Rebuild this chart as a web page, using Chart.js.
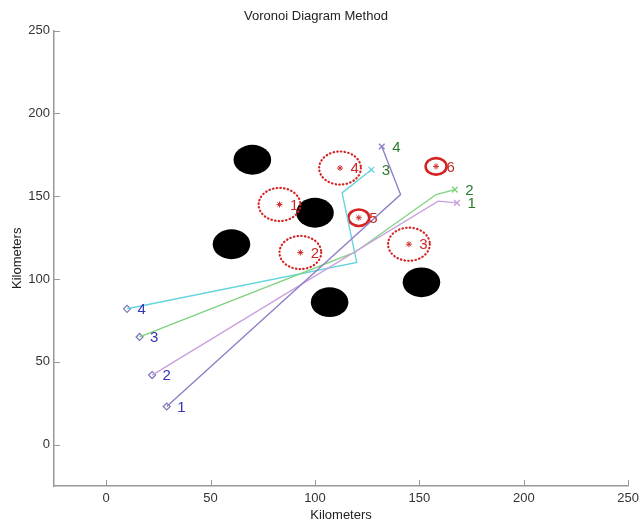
<!DOCTYPE html>
<html>
<head>
<meta charset="utf-8">
<title>Voronoi Diagram Method</title>
<script src="https://cdn.jsdelivr.net/npm/chart.js@4.4.1/dist/chart.umd.min.js"></script>
<style>
  body { margin: 0; background: #fff; }
</style>
</head>
<body>
<canvas id="voronoiChart" width="644" height="525"></canvas>
<script>
// axis ticks (km)
const xTicks = [0, 50, 100, 150, 200, 250];
const yTicks = [0, 50, 100, 150, 200, 250];

// obstacles (solid black), radius in km
const obstacleX = [70, 100, 60, 107, 151];
const obstacleY = [172, 140, 121, 86, 98];
const obstacleR = 9;

// threats: centre, radius, label
const threatX = [83, 93, 145, 112, 121, 158];
const threatY = [145, 116, 121, 167, 137, 168];
const threatR = [10, 10, 10, 10, 5, 5];
const threatLabels = ['1', '2', '3', '4', '5', '6'];

// routes from start point to end point
const path1X = [29, 141, 132];
const path1Y = [23, 151, 180];
const path2X = [22, 159, 168];
const path2Y = [42, 147, 146];
const path3X = [16, 119, 158, 167];
const path3Y = [65, 116, 151, 154];
const path4X = [10, 120, 113, 127];
const path4Y = [82, 110, 152, 166];
const pathColors = ['#8f80c6', '#c9a0de', '#80d280', '#66d4dc'];
const startLabels = ['1', '2', '3', '4'];
const endLabels = ['4', '1', '2', '3'];

const family = '"Liberation Sans", Arial, sans-serif';
const paths = [[path1X, path1Y], [path2X, path2Y], [path3X, path3Y], [path4X, path4Y]];

function toPoints(xs, ys) {
    return xs.map((x, i) => ({ x: x, y: ys[i] }));
}

const datasets = [];

// route lines, end marker is an x
paths.forEach(([xs, ys], i) => {
    datasets.push({
        data: toPoints(xs, ys),
        showLine: true,
        borderColor: pathColors[i],
        borderWidth: 1.4,
        pointStyle: 'crossRot',
        pointRadius: ctx => ctx.dataIndex === xs.length - 1 ? 4 : 0,
        pointBorderColor: pathColors[i],
        pointBorderWidth: 1.4
    });
});

// start diamonds
datasets.push({
    data: paths.map(([xs, ys]) => ({ x: xs[0], y: ys[0] })),
    pointStyle: 'rectRot',
    pointRadius: 3.5,
    pointBackgroundColor: '#fff',
    pointBorderColor: '#7a78b8',
    pointBorderWidth: 1.2
});

// threat centres
datasets.push({
    data: toPoints(threatX, threatY),
    pointStyle: 'star',
    pointRadius: 3,
    pointBorderColor: '#d03030',
    pointBorderWidth: 1
});

// obstacles and threat rings, sized in km through the scales
const areaPlugin = {
    id: 'areas',
    beforeDatasetsDraw(chart) {
        const { ctx, scales: { x, y } } = chart;
        const ellipse = (cx, cy, r) => {
            const px = x.getPixelForValue(cx), py = y.getPixelForValue(cy);
            const rx = x.getPixelForValue(cx + r) - px;
            const ry = py - y.getPixelForValue(cy + r);
            ctx.beginPath();
            ctx.ellipse(px, py, rx, ry, 0, 0, Math.PI * 2);
        };
        ctx.save();
        ctx.fillStyle = '#000';
        obstacleX.forEach((cx, i) => { ellipse(cx, obstacleY[i], obstacleR); ctx.fill(); });
        ctx.strokeStyle = '#d42424';
        threatX.forEach((cx, i) => {
            const dotted = threatR[i] > 6;
            ctx.lineWidth = dotted ? 2.2 : 2.6;
            ctx.setLineDash(dotted ? [0.5, 3.2] : []);
            ctx.lineCap = dotted ? 'round' : 'butt';
            ellipse(cx, threatY[i], threatR[i]);
            ctx.stroke();
        });
        ctx.restore();
    }
};

// number labels beside the marks
const labelPlugin = {
    id: 'numbers',
    afterDatasetsDraw(chart) {
        const { ctx, scales: { x, y } } = chart;
        const put = (text, vx, vy, color) => {
            ctx.fillStyle = color;
            ctx.fillText(text, x.getPixelForValue(vx + 5), y.getPixelForValue(vy) + 1);
        };
        ctx.save();
        ctx.font = '15px ' + family;
        ctx.textAlign = 'left';
        ctx.textBaseline = 'middle';
        threatX.forEach((cx, i) => put(threatLabels[i], cx, threatY[i], '#c82828'));
        paths.forEach(([xs, ys], i) => {
            put(startLabels[i], xs[0], ys[0], '#3434b8');
            put(endLabels[i], xs[xs.length - 1], ys[ys.length - 1], '#2a7a2a');
        });
        ctx.restore();
    }
};

// short tick marks pointing into the plot
const tickPlugin = {
    id: 'innerTicks',
    afterDraw(chart) {
        const { ctx, chartArea: a, scales: { x, y } } = chart;
        ctx.save();
        ctx.strokeStyle = '#999';
        ctx.lineWidth = 1;
        ctx.beginPath();
        xTicks.forEach(v => {
            const px = Math.round(x.getPixelForValue(v)) + 0.5;
            ctx.moveTo(px, a.bottom);
            ctx.lineTo(px, a.bottom - 6);
        });
        yTicks.forEach(v => {
            const py = Math.round(y.getPixelForValue(v)) + 0.5;
            ctx.moveTo(a.left, py);
            ctx.lineTo(a.left + 6, py);
        });
        ctx.stroke();
        ctx.restore();
    }
};

const tickFont = { family: family, size: 13 };

new Chart(document.getElementById('voronoiChart').getContext('2d'), {
    type: 'scatter',
    data: { datasets },
    options: {
        responsive: false,
        animation: false,
        layout: { padding: { right: 12 } },
        plugins: {
            legend: { display: false },
            tooltip: { enabled: false },
            title: {
                display: true,
                text: 'Voronoi Diagram Method',
                color: '#222',
                font: { family: family, size: 13, weight: 'normal' },
                padding: { top: 9, bottom: 6 }
            }
        },
        scales: {
            x: {
                type: 'linear',
                min: -25,
                max: 250,
                afterBuildTicks: s => { s.ticks = xTicks.map(v => ({ value: v })); },
                afterFit: s => { s.height = 39; },
                grid: { display: false, drawTicks: false },
                border: { color: '#999', width: 1.5 },
                ticks: { color: '#333', font: tickFont, padding: 5, maxRotation: 0 },
                title: {
                    display: true,
                    text: 'Kilometers',
                    color: '#222',
                    font: tickFont,
                    padding: { top: 0, bottom: 2 }
                }
            },
            y: {
                type: 'linear',
                min: -25,
                max: 250,
                afterBuildTicks: s => { s.ticks = yTicks.map(v => ({ value: v })); },
                afterFit: s => { s.width = 54; },
                grid: { display: false, drawTicks: false },
                border: { color: '#999', width: 1.5 },
                ticks: { color: '#333', font: tickFont, padding: 4 },
                title: {
                    display: true,
                    text: 'Kilometers',
                    color: '#222',
                    font: tickFont,
                    padding: { top: 10, bottom: 0 }
                }
            }
        }
    },
    plugins: [areaPlugin, labelPlugin, tickPlugin]
});
</script>
</body>
</html>
